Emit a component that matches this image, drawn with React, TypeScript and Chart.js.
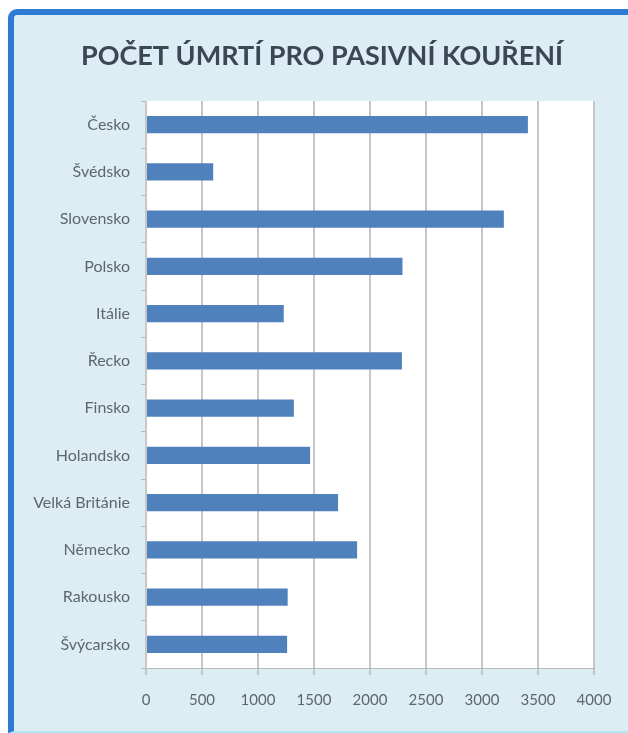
import React, { useEffect, useRef } from "react";
import { Chart, registerables } from "chart.js";

Chart.register(...registerables);

const TITLE = "POČET ÚMRTÍ PRO PASIVNÍ KOUŘENÍ";
const countries = [
  "Česko",
  "Švédsko",
  "Slovensko",
  "Polsko",
  "Itálie",
  "Řecko",
  "Finsko",
  "Holandsko",
  "Velká Británie",
  "Německo",
  "Rakousko",
  "Švýcarsko",
];
const deaths = [3410, 600, 3195, 2290, 1230, 2285, 1320, 1465, 1715, 1885, 1265, 1260];
const xMin = 0;
const xMax = 4000;
const xStep = 500;

const CANVAS_W = 614;
const CANVAS_H = 716;

const plotBg = {
  id: "plotBg",
  beforeDraw(chart: any) {
    const { ctx, chartArea } = chart;
    ctx.save();
    ctx.fillStyle = "#ffffff";
    ctx.fillRect(chartArea.left, chartArea.top, chartArea.right - chartArea.left, chartArea.bottom - chartArea.top);
    ctx.restore();
  },
};

const titlePlugin = {
  id: "centeredTitle",
  afterDraw(chart: any) {
    const { ctx } = chart;
    ctx.save();
    ctx.fillStyle = "#3b4754";
    ctx.font = "bold 27px Lato";
    ctx.textAlign = "center";
    ctx.textBaseline = "middle";
    ctx.fillText(TITLE, 308, 41);
    ctx.restore();
  },
};

export default function App() {
  const ref = useRef<HTMLCanvasElement | null>(null);
  useEffect(() => {
    if (!ref.current) return;
    const chart = new Chart(ref.current, {
      type: "bar",
      data: {
        labels: countries,
        datasets: [
          {
            data: deaths,
            backgroundColor: "#4f81bd",
            borderWidth: 0,
            barPercentage: 0.36,
            categoryPercentage: 1,
          },
        ],
      },
      options: {
        indexAxis: "y",
        responsive: false,
        devicePixelRatio: 1,
        animation: false,
        layout: { padding: { left: 0, right: 34, top: 86, bottom: 0 } },
        plugins: {
          legend: { display: false },
          tooltip: { enabled: false },
          title: { display: false },
        },
        scales: {
          x: {
            type: "linear",
            min: xMin,
            max: xMax,
            ticks: {
              stepSize: xStep,
              color: "#5f6670",
              font: { family: "Lato", size: 15 },
              padding: 16,
              callback: (v: any) => String(v),
            },
            grid: { color: "#c6c6c6", lineWidth: 2, tickLength: 7 },
            border: { display: true, color: "#b8b8b8", width: 1 },
            afterFit(scale: any) {
              scale.height = 63;
            },
          },
          y: {
            type: "category",
            offset: true,
            ticks: {
              color: "#5f6670",
              font: { family: "Lato", size: 16 },
              padding: 11,
            },
            grid: { offset: true, drawOnChartArea: false, tickLength: 5, color: "#b8b8b8" },
            border: { display: true, color: "#c8c8c8", width: 1 },
            afterFit(scale: any) {
              scale.width = 132;
            },
          },
        },
      },
      plugins: [plotBg, titlePlugin],
    } as any);
    return () => chart.destroy();
  }, []);

  return (
    <div
      style={{
        position: "fixed",
        left: 8,
        top: 9,
        width: 620,
        height: 724,
        boxSizing: "border-box",
        borderLeft: "6px solid #2e7bd4",
        borderTop: "6px solid #2e7bd4",
        borderTopLeftRadius: 9,
        borderBottom: "2px solid #b4e6f2",
        background: "#dcedf3",
      }}
    >
      <canvas ref={ref} width={CANVAS_W} height={CANVAS_H} style={{ display: "block" }} />
    </div>
  );
}
